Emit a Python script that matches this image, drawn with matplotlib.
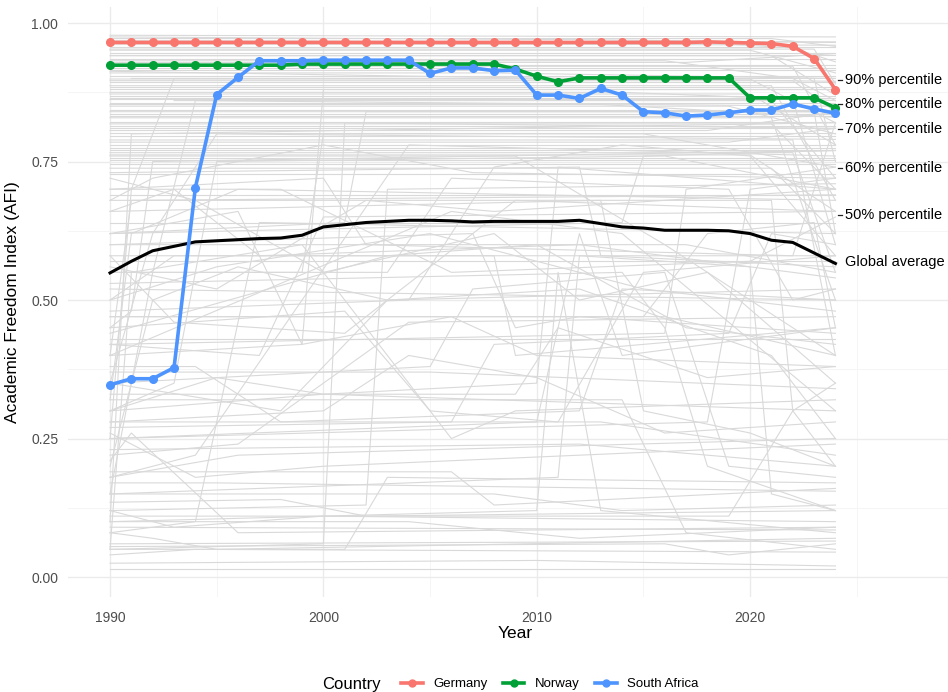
import numpy as np
import matplotlib.pyplot as plt
from matplotlib.lines import Line2D

plt.rcParams['font.family'] = ['Liberation Sans', 'DejaVu Sans']

# ── Data ──────────────────────────────────────────────────────────────────────

YEARS = list(range(1990, 2025))

GERMANY = [0.965] * 28 + [0.966, 0.965, 0.964, 0.963, 0.958, 0.936, 0.880]
NORWAY = ([0.924] * 9 + [0.926] * 10 +
          [0.917, 0.904, 0.894] + [0.901] * 8 + [0.865] * 4 + [0.847])
SOUTH_AFRICA = [0.347, 0.358, 0.358, 0.378, 0.703, 0.871, 0.902, 0.932, 0.932,
                0.932, 0.933, 0.933, 0.933, 0.933, 0.933, 0.909, 0.919, 0.919,
                0.914, 0.915, 0.870, 0.870, 0.864, 0.882, 0.870, 0.840, 0.838,
                0.832, 0.834, 0.838, 0.843, 0.843, 0.854, 0.845, 0.837]
GLOBAL_AVG = [0.549, 0.570, 0.589, 0.597, 0.605, 0.607, 0.609, 0.611, 0.612,
              0.617, 0.632, 0.636, 0.640, 0.642, 0.644, 0.644, 0.643, 0.641,
              0.642, 0.642, 0.642, 0.642, 0.644, 0.638, 0.632, 0.630, 0.626,
              0.626, 0.626, 0.625, 0.620, 0.608, 0.604, 0.585, 0.566]

HIGHLIGHT = ['Germany', 'Norway', 'South Africa']
HIGHLIGHT_VALUES = [GERMANY, NORWAY, SOUTH_AFRICA]
HIGHLIGHT_COLORS = ['#F8766D', '#00A037', '#4D94FF']

PCT_LABELS = ['90% percentile', '80% percentile', '70% percentile',
              '60% percentile', '50% percentile']
PCT_VALUES = [0.897, 0.854, 0.809, 0.738, 0.653]

# other countries: (breakpoint years, values) -- straight segments in between
BG_HIGH = [
    ([1990, 2024], [0.978, 0.975]),
    ([1990, 2021, 2024], [0.972, 0.972, 0.958]),
    ([1990, 2024], [0.968, 0.966]),
    ([1990, 2019, 2022, 2024], [0.962, 0.962, 0.955, 0.93]),
    ([1990, 2024], [0.957, 0.957]),
    ([1990, 2020, 2024], [0.951, 0.951, 0.91]),
    ([1990, 2024], [0.946, 0.946]),
    ([1990, 2021, 2024], [0.941, 0.941, 0.87]),
    ([1990, 2024], [0.936, 0.936]),
    ([1990, 2017, 2024], [0.929, 0.929, 0.945]),
    ([1990, 2022, 2024], [0.922, 0.922, 0.78]),
    ([1990, 2024], [0.916, 0.916]),
    ([1990, 2008, 2024], [0.910, 0.910, 0.90]),
    ([1990, 2024], [0.905, 0.905]),
    ([1990, 2020, 2024], [0.899, 0.899, 0.82]),
    ([1990, 2024], [0.893, 0.893]),
    ([1990, 2021, 2024], [0.887, 0.887, 0.68]),
    ([1990, 2024], [0.881, 0.881]),
    ([1990, 2014, 2024], [0.875, 0.875, 0.86]),
    ([1990, 2024], [0.869, 0.869]),
    ([1990, 2022, 2024], [0.862, 0.862, 0.60]),
    ([1990, 2024], [0.856, 0.856]),
    ([1990, 2019, 2024], [0.850, 0.850, 0.80]),
    ([1990, 2024], [0.843, 0.843]),
    ([1990, 2024], [0.836, 0.836]),
    ([1990, 2021, 2024], [0.829, 0.829, 0.50]),
    ([1990, 2024], [0.822, 0.822]),
    ([1990, 2024], [0.814, 0.814]),
    ([1990, 2018, 2024], [0.806, 0.806, 0.84]),
    ([1990, 2024], [0.797, 0.797]),
    ([1990, 2022, 2024], [0.789, 0.789, 0.40]),
    ([1990, 2024], [0.780, 0.780]),
    ([1990, 2024], [0.771, 0.771]),
    ([1990, 2020, 2024], [0.762, 0.762, 0.66]),
    ([1990, 2024], [0.752, 0.752]),
    ([1991, 2024], [0.965, 0.960]),
    ([1991, 2023, 2024], [0.900, 0.900, 0.75]),
    ([1992, 2024], [0.925, 0.925]),
    ([1993, 2021, 2024], [0.860, 0.860, 0.72]),
    ([1990, 2012, 2024], [0.975, 0.970, 0.965]),
    ([1990, 2023, 2024], [0.953, 0.953, 0.89]),
    ([1990, 2024], [0.943, 0.943]),
    ([1990, 2016, 2022, 2024], [0.932, 0.932, 0.900, 0.86]),
    ([1990, 2024], [0.919, 0.919]),
    ([1990, 2011, 2024], [0.913, 0.900, 0.895]),
    ([1990, 2022, 2024], [0.896, 0.896, 0.84]),
    ([1990, 2024], [0.884, 0.884]),
    ([1990, 2020, 2024], [0.872, 0.872, 0.78]),
    ([1990, 2024], [0.865, 0.865]),
    ([1990, 2013, 2024], [0.853, 0.853, 0.83]),
    ([1990, 2023, 2024], [0.840, 0.840, 0.62]),
    ([1990, 2024], [0.832, 0.832]),
    ([1990, 2021, 2024], [0.818, 0.818, 0.70]),
    ([1990, 2024], [0.810, 0.810]),
    ([1990, 2024], [0.801, 0.801]),
    ([1990, 2019, 2024], [0.785, 0.785, 0.81]),
    ([1990, 2024], [0.775, 0.775]),
    ([1990, 2022, 2024], [0.766, 0.766, 0.55]),
    ([1990, 2024], [0.757, 0.757]),
    ([1990, 2024], [0.745, 0.745]),
    ([1990, 2021, 2024], [0.738, 0.738, 0.62]),
    ([1990, 2024], [0.728, 0.728]),
]

BG_MID = [
    ([1990, 1991, 1993, 2024], [0.25, 0.70, 0.90, 0.90]),
    ([1990, 1992, 1994, 2024], [0.15, 0.55, 0.86, 0.85]),
    ([1990, 1991, 2024], [0.10, 0.80, 0.82]),
    ([1990, 1993, 1995, 2016, 2024], [0.30, 0.35, 0.75, 0.76, 0.70]),
    ([1990, 1999, 2000, 2024], [0.40, 0.42, 0.88, 0.88]),
    ([1990, 1999, 2000, 2015, 2024], [0.55, 0.55, 0.80, 0.80, 0.74]),
    ([1990, 1996, 1999, 2006, 2010, 2024], [0.62, 0.66, 0.42, 0.47, 0.40, 0.38]),
    ([1990, 2004, 2008, 2014, 2020, 2024], [0.48, 0.50, 0.74, 0.78, 0.76, 0.58]),
    ([1990, 1995, 2000, 2010, 2011, 2024], [0.30, 0.36, 0.33, 0.35, 0.74, 0.70]),
    ([1990, 2002, 2003, 2024], [0.12, 0.13, 0.70, 0.71]),
    ([1990, 1994, 2000, 2008, 2012, 2018, 2024], [0.72, 0.68, 0.55, 0.62, 0.50, 0.55, 0.35]),
    ([1990, 2013, 2015, 2020, 2024], [0.66, 0.68, 0.30, 0.26, 0.20]),
    ([1990, 1991, 1999, 2006, 2009, 2024], [0.05, 0.55, 0.60, 0.25, 0.30, 0.32]),
    ([1990, 2005, 2007, 2016, 2019, 2024], [0.35, 0.38, 0.52, 0.55, 0.20, 0.18]),
    ([1990, 2010, 2012, 2014, 2024], [0.25, 0.28, 0.62, 0.40, 0.45]),
    ([1990, 2010, 2011, 2013, 2024], [0.10, 0.12, 0.55, 0.12, 0.08]),
    ([1990, 2014, 2016, 2018, 2024], [0.53, 0.55, 0.45, 0.20, 0.12]),
    ([1990, 2006, 2014, 2024], [0.40, 0.66, 0.62, 0.30]),
    ([1990, 2000, 2002, 2022, 2024], [0.70, 0.72, 0.60, 0.58, 0.82]),
    ([1990, 2018, 2020, 2024], [0.25, 0.28, 0.70, 0.72]),
    ([1990, 2008, 2009, 2024], [0.58, 0.58, 0.40, 0.45]),
    ([1990, 1997, 2000, 2024], [0.42, 0.40, 0.65, 0.66]),
    ([1990, 1992, 1996, 2003, 2024], [0.20, 0.50, 0.56, 0.50, 0.52]),
    ([1990, 1994, 1997, 2024], [0.08, 0.10, 0.64, 0.62]),
    ([1990, 2001, 2005, 2011, 2015, 2024], [0.45, 0.48, 0.30, 0.28, 0.55, 0.58]),
    ([1990, 1993, 2001, 2009, 2024], [0.58, 0.46, 0.44, 0.68, 0.66]),
    ([1990, 1998, 2003, 2012, 2021, 2024], [0.35, 0.30, 0.50, 0.52, 0.40, 0.25]),
    ([1990, 2016, 2017, 2024], [0.42, 0.44, 0.70, 0.74]),
    ([1990, 2011, 2012, 2020, 2021, 2024], [0.15, 0.18, 0.58, 0.56, 0.15, 0.12]),
    ([1990, 1995, 2005, 2015, 2024], [0.50, 0.56, 0.62, 0.52, 0.48]),
    ([1990, 1991, 1996, 2024], [0.32, 0.62, 0.70, 0.68]),
    ([1990, 2007, 2009, 2012, 2024], [0.60, 0.62, 0.45, 0.47, 0.44]),
    ([1990, 1992, 2000, 2007, 2024], [0.68, 0.72, 0.78, 0.73, 0.72]),
    ([1990, 2003, 2006, 2019, 2022, 2024], [0.55, 0.55, 0.72, 0.70, 0.50, 0.52]),
    ([1990, 1994, 1998, 2012, 2014, 2024], [0.38, 0.38, 0.28, 0.30, 0.52, 0.50]),
    ([1990, 2000, 2004, 2010, 2016, 2024], [0.28, 0.30, 0.40, 0.36, 0.26, 0.28]),
    ([1990, 1991, 1992, 2024], [0.45, 0.48, 0.75, 0.77]),
    ([1990, 2012, 2013, 2024], [0.73, 0.74, 0.58, 0.56]),
    ([1990, 2021, 2022, 2024], [0.68, 0.68, 0.30, 0.35]),
    ([1990, 2015, 2018, 2023, 2024], [0.47, 0.47, 0.62, 0.64, 0.45]),
    ([1990, 1996, 2004, 2024], [0.22, 0.24, 0.46, 0.47]),
    ([1990, 2009, 2011, 2018, 2024], [0.33, 0.33, 0.45, 0.36, 0.38]),
    ([1990, 2001, 2002, 2024], [0.62, 0.64, 0.84, 0.84]),
    ([1990, 1993, 2024], [0.50, 0.58, 0.58]),
    ([1990, 2024], [0.64, 0.64]),
    ([1990, 2024], [0.52, 0.50]),
    ([1990, 2024], [0.43, 0.43]),
    ([1990, 2017, 2024], [0.60, 0.60, 0.55]),
    ([1990, 2005, 2024], [0.37, 0.37, 0.34]),
    ([1990, 1992, 1995, 2024], [0.35, 0.62, 0.80, 0.79]),
    ([1990, 1994, 2004, 2024], [0.18, 0.22, 0.78, 0.76]),
    ([1990, 2000, 2001, 2024], [0.05, 0.06, 0.82, 0.81]),
    ([1990, 1998, 2006, 2020, 2024], [0.70, 0.70, 0.55, 0.57, 0.65]),
    ([1990, 2009, 2016, 2024], [0.76, 0.76, 0.60, 0.40]),
    ([1990, 1995, 2002, 2008, 2024], [0.56, 0.52, 0.68, 0.66, 0.70]),
    ([1990, 2014, 2015, 2024], [0.62, 0.64, 0.76, 0.77]),
    ([1990, 2003, 2010, 2017, 2024], [0.44, 0.58, 0.60, 0.45, 0.42]),
    ([1990, 1993, 1997, 2012, 2024], [0.66, 0.70, 0.58, 0.60, 0.54]),
    ([1990, 2006, 2008, 2019, 2021, 2024], [0.27, 0.28, 0.42, 0.44, 0.62, 0.60]),
    ([1990, 1991, 2024], [0.40, 0.68, 0.69]),
    ([1990, 2024], [0.69, 0.69]),
    ([1990, 2024], [0.57, 0.57]),
    ([1990, 2016, 2024], [0.47, 0.47, 0.40]),
]

BG_LOW = [
    ([1990, 2024], [0.015, 0.015]),
    ([1990, 2010, 2024], [0.025, 0.030, 0.020]),
    ([1990, 1994, 2024], [0.040, 0.050, 0.045]),
    ([1990, 2016, 2019, 2024], [0.055, 0.060, 0.040, 0.060]),
    ([1990, 1992, 1995, 2024], [0.080, 0.070, 0.050, 0.070]),
    ([1990, 2024], [0.090, 0.085]),
    ([1990, 2004, 2012, 2024], [0.10, 0.10, 0.07, 0.09]),
    ([1990, 1993, 2000, 2024], [0.12, 0.09, 0.11, 0.10]),
    ([1990, 1998, 2002, 2024], [0.135, 0.14, 0.11, 0.12]),
    ([1990, 2008, 2014, 2024], [0.15, 0.15, 0.12, 0.13]),
    ([1990, 1995, 2024], [0.17, 0.17, 0.155]),
    ([1990, 2006, 2008, 2024], [0.19, 0.19, 0.13, 0.16]),
    ([1990, 1991, 1996, 2024], [0.21, 0.26, 0.08, 0.09]),
    ([1990, 2012, 2024], [0.23, 0.24, 0.20]),
    ([1990, 1994, 2000, 2024], [0.26, 0.18, 0.20, 0.24]),
    ([1990, 2013, 2024], [0.28, 0.28, 0.22]),
    ([1990, 2000, 2024], [0.30, 0.33, 0.30]),
    ([1990, 2014, 2017, 2024], [0.32, 0.32, 0.08, 0.05]),
    ([1990, 1996, 2024], [0.18, 0.22, 0.25]),
    ([1990, 2024], [0.060, 0.065]),
    ([1990, 2019, 2022, 2024], [0.11, 0.11, 0.30, 0.20]),
    ([1990, 2001, 2003, 2024], [0.05, 0.05, 0.18, 0.17]),
]

# ── Figure ────────────────────────────────────────────────────────────────────

fig = plt.figure(figsize=(9.48, 6.92), dpi=100)
# panel runs past the right edge of the image, like the reference
ax = fig.add_axes([68 / 948, 95 / 692, 904 / 948, 590 / 692])

ax.set_xlim(1988.03, 2030.4)
ax.set_ylim(-0.036, 1.029)

ax.set_xticks([1990, 2000, 2010, 2020])
ax.set_xticks([1995, 2005, 2015, 2025], minor=True)
ax.set_yticks([0, 0.25, 0.5, 0.75, 1.0])
ax.set_yticks([0.125, 0.375, 0.625, 0.875], minor=True)
ax.set_yticklabels(['0.00', '0.25', '0.50', '0.75', '1.00'])
ax.grid(which='major', color='#ebebeb', linewidth=1.0)
ax.grid(which='minor', color='#f4f4f4', linewidth=0.6)
ax.set_axisbelow(True)
ax.tick_params(which='both', length=0, labelsize=10, labelcolor='#4d4d4d')
ax.tick_params(axis='x', pad=10)
ax.tick_params(axis='y', pad=7)
for sp in ax.spines.values():
    sp.set_visible(False)

for group in (BG_HIGH, BG_MID, BG_LOW):
    for yrs, vals in group:
        ax.plot(yrs, vals, color='#d9d9d9', linewidth=0.8, zorder=1)

ax.plot(YEARS, GLOBAL_AVG, color='black', linewidth=2.2, zorder=3)

for name, vals, col in zip(HIGHLIGHT, HIGHLIGHT_VALUES, HIGHLIGHT_COLORS):
    ax.plot(YEARS, vals, color=col, linewidth=2.6, marker='o', markersize=5.5,
            zorder=4, solid_capstyle='round')

for lbl, v in zip(PCT_LABELS, PCT_VALUES):
    ax.plot([2024.12, 2024.32], [v, v], color='#222222', linewidth=0.9,
            clip_on=False, zorder=5)
    ax.text(2024.45, v, lbl, fontsize=10.5, va='center', ha='left',
            color='black', clip_on=False)
ax.text(2024.45, GLOBAL_AVG[-1] + 0.003, 'Global average', fontsize=10.5,
        va='center', ha='left', color='black', clip_on=False)

ax.set_ylabel('Academic Freedom Index (AFI)', fontsize=12.5, labelpad=8)
fig.text(515 / 948, 1 - 633 / 692, 'Year', fontsize=12.5, ha='center', va='center')

# legend along the bottom
fig.text(351 / 948, 1 - 684 / 692, 'Country', fontsize=12, ha='center', va='center')
handles = [Line2D([0], [0], color=c, linewidth=2.6, marker='o', markersize=5)
           for c in HIGHLIGHT_COLORS]
fig.legend(handles, HIGHLIGHT, loc='center', ncol=3, frameon=False,
           bbox_to_anchor=(550 / 948, 1 - 684 / 692), fontsize=9.5,
           handlelength=1.6, handletextpad=0.8, columnspacing=1.2)

fig.savefig('out.png', dpi=100)
